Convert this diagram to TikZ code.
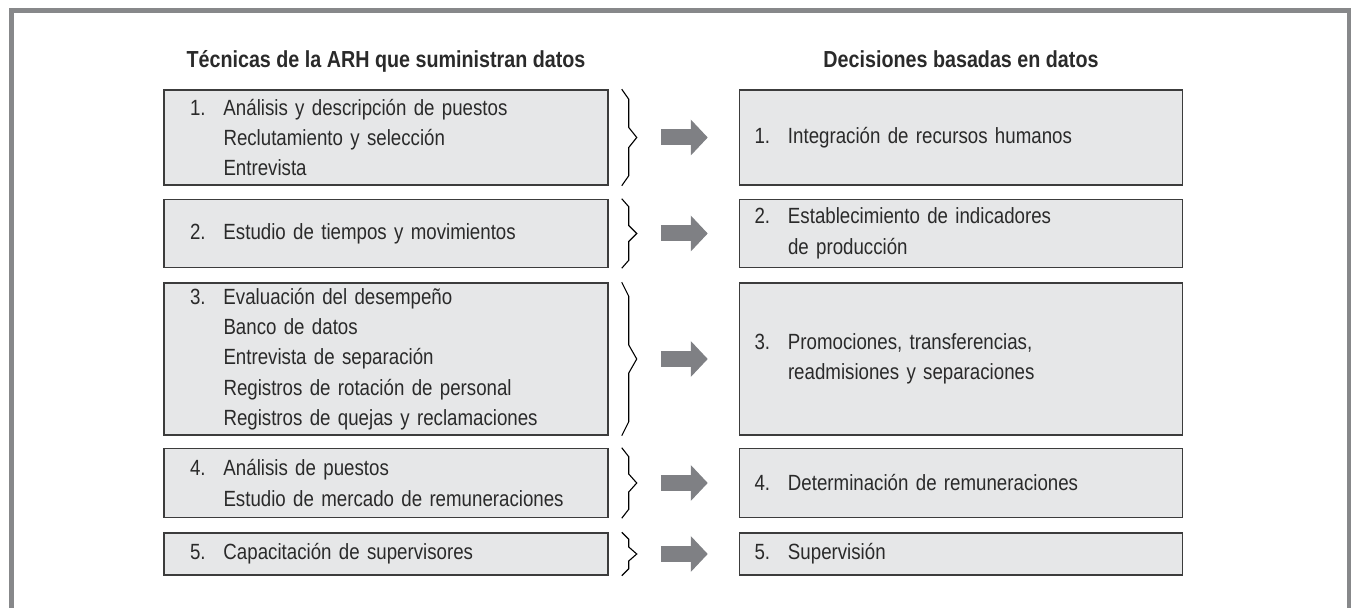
\documentclass[tikz,border=0pt]{standalone}
\usepackage{fontspec}
\setmainfont{Liberation Sans}[FakeStretch=0.85]
\newfontfamily\headfont{Liberation Sans}[FakeStretch=0.85]
\usepackage{tikz}
\usetikzlibrary{arrows.meta,positioning,calc}
\usepackage{xcolor}
\definecolor{boxfill}{HTML}{E6E7E8}
\definecolor{boxline}{HTML}{3C3C3C}
\definecolor{arrgrey}{HTML}{7F8084}
\definecolor{framegrey}{HTML}{87888A}
\definecolor{txt}{HTML}{2A2A2A}
\newcommand{\nlab}[1]{\makebox[16.75pt][l]{#1}}
\newcommand{\ind}{\hspace*{16.75pt}}
\newcommand{\grpbrace}[2]{\draw[bracel] ([xshift=6.5pt]#1.north east) -- ([xshift=10pt,yshift=-#2]#1.north east)
  -- ([xshift=10pt,yshift=#2]#1.east) -- ([xshift=14pt]#1.east) -- ([xshift=10pt,yshift=-#2]#1.east)
  -- ([xshift=10pt,yshift=#2]#1.south east) -- ([xshift=6.5pt]#1.south east);}

\begin{document}
\begin{tikzpicture}[x=0.5pt,y=-0.5pt,
lbox/.style={draw=boxline,fill=boxfill,line width=0.75pt,minimum width=222pt,inner xsep=13pt,inner ysep=0pt,text width=196pt,align=left,text=txt,font=\fontsize{11}{15.2}\selectfont},
rbox/.style={lbox,minimum width=221.5pt,inner xsep=7.5pt,text width=206.5pt},
head/.style={font=\headfont\bfseries\fontsize{11.6}{14}\selectfont,text=txt,anchor=base,inner sep=0pt},
fatarrow/.style={draw=arrgrey,line width=8pt,-{Triangle[width=17.5pt 0,length=8.5pt 0]}},
bracel/.style={draw=black,line width=0.55pt}]
\useasboundingbox (0,0) rectangle (1351,608);
\draw[framegrey,line width=2.5pt] (11.5,608) -- (11.5,10.5) -- (1349,10.5) -- (1349,608);
\node[lbox,minimum height=47.5pt] (L1) at (386,137.5) {\nlab{1.}Análisis y descripción de puestos\\\ind Reclutamiento y selección\\\ind Entrevista};
\node[lbox,minimum height=34pt,below=6.5pt of L1] (L2) {\nlab{2.}Estudio de tiempos y movimientos};
\node[lbox,minimum height=76pt,below=7pt of L2] (L3) {\nlab{3.}Evaluación del desempeño\\\ind Banco de datos\\\ind Entrevista de separación\\\ind Registros de rotación de personal\\\ind Registros de quejas y reclamaciones};
\node[lbox,minimum height=34.5pt,below=6pt of L3] (L4) {\nlab{4.}Análisis de puestos\\\ind Estudio de mercado de remuneraciones};
\node[lbox,minimum height=21pt,below=7pt of L4] (L5) {\nlab{5.}Capacitación de supervisores};
\node[rbox,minimum height=47.5pt,right=65pt of L1] (R1) {\nlab{1.}Integración de recursos humanos};
\node[rbox,minimum height=34pt,right=65pt of L2] (R2) {\nlab{2.}Establecimiento de indicadores\\\ind de producción};
\node[rbox,minimum height=76pt,right=65pt of L3] (R3) {\nlab{3.}Promociones, transferencias,\\\ind readmisiones y separaciones};
\node[rbox,minimum height=34.5pt,right=65pt of L4] (R4) {\nlab{4.}Determinación de remuneraciones};
\node[rbox,minimum height=21pt,right=65pt of L5] (R5) {\nlab{5.}Supervisión};
\node[head] (hL) at (L1.north |- 0,68) {Técnicas de la ARH que suministran datos};
\node[head] (hR) at (R1.north |- 0,68) {Decisiones basadas en datos};
\grpbrace{L1}{5pt}
\grpbrace{L2}{4pt}
\grpbrace{L3}{7pt}
\grpbrace{L4}{4.5pt}
\grpbrace{L5}{3.5pt}
\foreach \i in {1,...,5}
  \draw[fatarrow] ([xshift=26pt]L\i.east) -- ([xshift=-15.5pt]R\i.west);
\end{tikzpicture}
\end{document}
